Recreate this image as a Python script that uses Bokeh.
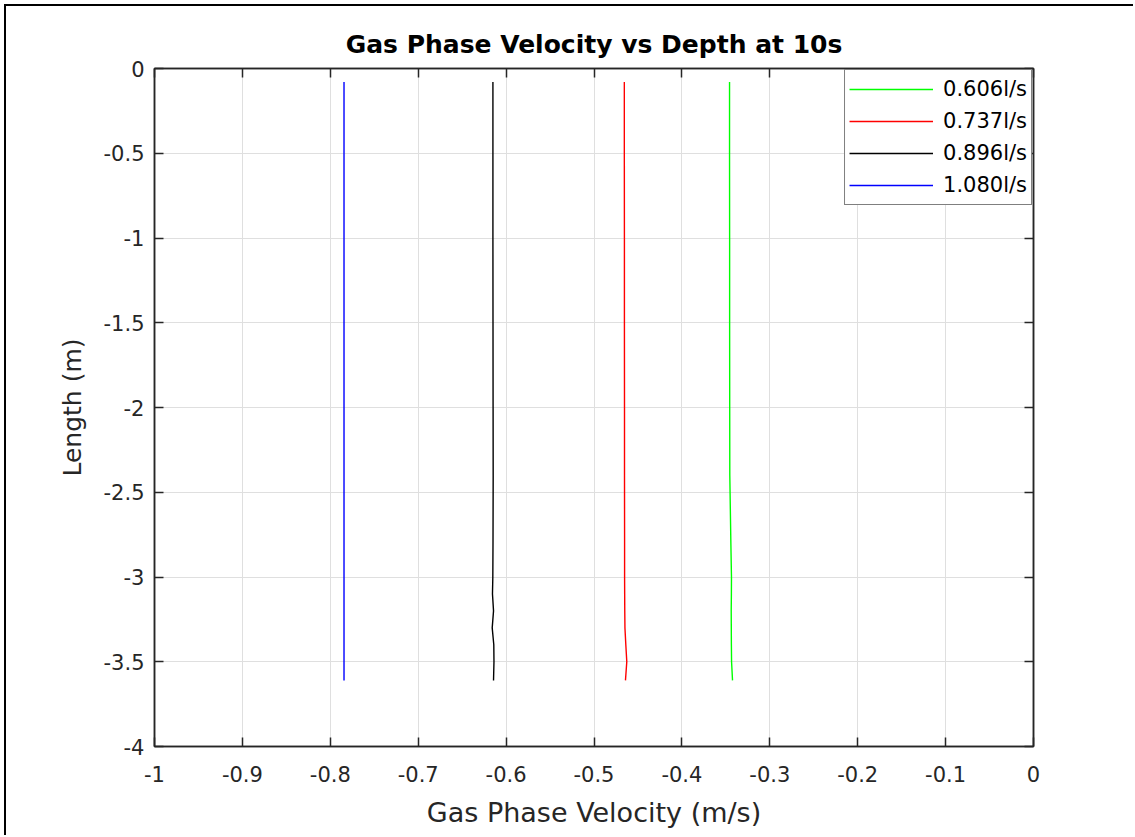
from bokeh.plotting import figure
from bokeh.models import LinearAxis, FixedTicker, Range1d, Legend, LegendItem
from bokeh.embed import file_html
from bokeh.resources import INLINE

# ---- data ----
depth = [-0.08, -0.5, -1.0, -1.5, -2.0, -2.4, -2.8, -3.0, -3.1, -3.2, -3.3, -3.4, -3.5, -3.61]
v_0606 = [-0.3458, -0.3458, -0.3457, -0.3457, -0.3456, -0.3455, -0.3443, -0.3436, -0.3437, -0.3439, -0.3438, -0.3437, -0.3435, -0.3424]
v_0737 = [-0.4655, -0.4655, -0.4654, -0.4654, -0.4653, -0.4653, -0.4652, -0.4652, -0.4651, -0.4650, -0.4648, -0.4638, -0.4627, -0.4642]
v_0896 = [-0.6150, -0.6150, -0.6150, -0.6149, -0.6148, -0.6147, -0.6149, -0.6151, -0.6155, -0.6143, -0.6158, -0.6140, -0.6138, -0.6143]
v_1080 = [-0.7844, -0.7844, -0.7844, -0.7844, -0.7844, -0.7844, -0.7844, -0.7844, -0.7844, -0.7844, -0.7844, -0.7844, -0.7844, -0.7844]

series_labels = ["0.606l/s", "0.737l/s", "0.896l/s", "1.080l/s"]
series_values = [v_0606, v_0737, v_0896, v_1080]
series_colors = ["#00ff00", "#ff0000", "#000000", "#0000ff"]

xticks = [-1.0, -0.9, -0.8, -0.7, -0.6, -0.5, -0.4, -0.3, -0.2, -0.1, 0.0]
xtick_labels = ["-1", "-0.9", "-0.8", "-0.7", "-0.6", "-0.5", "-0.4", "-0.3", "-0.2", "-0.1", "0"]
yticks = [-4.0, -3.5, -3.0, -2.5, -2.0, -1.5, -1.0, -0.5, 0.0]
ytick_labels = ["-4", "-3.5", "-3", "-2.5", "-2", "-1.5", "-1", "-0.5", "0"]

FONT = "DejaVu Sans"
AX = "#262626"

p = figure(width=1129, height=831, output_backend="svg", toolbar_location=None,
           x_range=Range1d(-1, 0), y_range=Range1d(-4, 0),
           min_border_left=148, min_border_right=102, min_border_top=62, min_border_bottom=91,
           background_fill_color="white", border_fill_color="white",
           title="Gas Phase Velocity vs Depth at 10s")
p.margin = (4, 0, 0, 4)
p.styles = {"border-top": "2px solid #000000", "border-left": "2px solid #000000"}

p.title.align = "center"
p.title.text_font = FONT
p.title.text_font_size = "25px"
p.title.text_font_style = "bold"
p.title.text_color = "#000000"
p.title.standoff = 19

xt = FixedTicker(ticks=xticks)
yt = FixedTicker(ticks=yticks)
xover = {t: l for t, l in zip(xticks, xtick_labels)}
yover = {t: l for t, l in zip(yticks, ytick_labels)}

def style_axis(ax, ticker, overrides, show_labels):
    ax.ticker = ticker
    ax.axis_line_color = AX
    ax.axis_line_width = 1.5
    ax.major_tick_line_color = AX
    ax.major_tick_line_width = 1.5
    ax.major_tick_in = 9
    ax.major_tick_out = 0
    ax.minor_tick_line_color = None
    ax.major_label_text_font = FONT
    ax.major_label_text_color = AX
    ax.major_label_text_font_size = "21px"
    if show_labels:
        ax.major_label_overrides = overrides
    else:
        ax.major_label_overrides = {t: "" for t in overrides}
        ax.major_label_standoff = 0

style_axis(p.xaxis[0], xt, xover, True)
style_axis(p.yaxis[0], yt, yover, True)
p.xaxis[0].major_label_standoff = 19
p.yaxis[0].major_label_standoff = 10
p.xaxis[0].axis_label = "Gas Phase Velocity (m/s)"
p.yaxis[0].axis_label = "Length (m)"
for ax in (p.xaxis[0], p.yaxis[0]):
    ax.axis_label_text_font = FONT
    ax.axis_label_text_font_size = "25px"
    ax.axis_label_text_font_style = "normal"
    ax.axis_label_text_color = AX
p.xaxis[0].axis_label_text_font_size = "27px"
p.xaxis[0].axis_label_standoff = 12
p.yaxis[0].axis_label_standoff = 14

top_ax = LinearAxis()
right_ax = LinearAxis()
style_axis(top_ax, xt, xover, False)
style_axis(right_ax, yt, yover, False)
p.add_layout(top_ax, "above")
p.add_layout(right_ax, "right")

p.xgrid.ticker = xt
p.ygrid.ticker = yt
for g in (p.xgrid[0], p.ygrid[0]):
    g.grid_line_color = "#dfdfdf"
    g.grid_line_width = 1

p.outline_line_color = AX
p.outline_line_width = 1.5

items = []
for lab, vals, col in zip(series_labels, series_values, series_colors):
    r = p.line(vals, depth, line_color=col, line_width=1.4)
    items.append(LegendItem(label=lab, renderers=[r]))

legend = Legend(items=items, location="top_right")
legend.margin = 1
legend.padding = 4
legend.spacing = 2
legend.glyph_width = 84
legend.glyph_height = 30
legend.label_height = 30
legend.label_standoff = 10
legend.label_text_font = FONT
legend.label_text_font_size = "21px"
legend.label_text_color = "#000000"
legend.border_line_color = "#000000"
legend.border_line_width = 1.2
legend.background_fill_color = "white"
legend.background_fill_alpha = 1.0
p.add_layout(legend, "center")

open("out.html", "w").write(file_html(p, INLINE))
